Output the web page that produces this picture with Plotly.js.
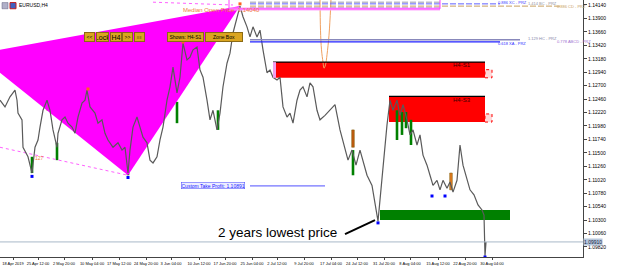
<!DOCTYPE html>
<html><head><meta charset="utf-8">
<script src="https://cdn.plot.ly/plotly-3.0.1.min.js"></script>
<style>html,body{margin:0;padding:0;background:#fff}#chart{width:625px;height:270px}</style>
</head><body><div id="chart"></div>
<script>
// ---- data (bar index, price) ----
const barX = [0,5,10,15,17,18,22,23,28,32,35,38,40,43,47,50,53,57,58,62,65,68,72,75,78,82,85,87,90,95,98,102,105,108,113,118,122,125,128,130,133,137,140,143,147,150,153,157,160,163,167,170,173,177,180,183,187,190,193,197,200,203,207,210,213,217,220,223,227,230,233,237,240,243,247,250,253,257,260,263,267,270,273,277,280,283,287,290,293,297,300,303,307,310,313,317,320,325,330,335,340,345,348,352,356,360,363,367,372,375,378,380,383,385,387,390,393,397,400,403,407,410,413,417,420,423,427,430,433,437,440,443,447,450,453,457,460,463,467,470,474,478,482,484,485,486];
const price = [1.1244,1.1232,1.1250,1.1262,1.1244,1.1221,1.1209,1.1160,1.1143,1.1114,1.1160,1.1173,1.1196,1.1226,1.1244,1.1226,1.1191,1.1160,1.1185,1.1209,1.1214,1.1203,1.1196,1.1185,1.1214,1.1239,1.1244,1.1262,1.1232,1.1221,1.1203,1.1209,1.1185,1.1173,1.1160,1.1168,1.1155,1.1160,1.1114,1.1155,1.1196,1.1214,1.1196,1.1178,1.1168,1.1137,1.1132,1.1143,1.1173,1.1196,1.1244,1.1268,1.1303,1.1257,1.1285,1.1346,1.1316,1.1321,1.1334,1.1339,1.1298,1.1285,1.1244,1.1209,1.1226,1.1191,1.1221,1.1268,1.1310,1.1328,1.1364,1.1393,1.1412,1.1393,1.1375,1.1357,1.1375,1.1357,1.1369,1.1334,1.1293,1.1298,1.1285,1.1280,1.1285,1.1232,1.1214,1.1221,1.1203,1.1244,1.1262,1.1268,1.1250,1.1275,1.1268,1.1226,1.1209,1.1217,1.1226,1.1236,1.1191,1.1155,1.1137,1.1155,1.1128,1.1155,1.1137,1.1110,1.1092,1.1057,1.1028,1.1066,1.1128,1.1164,1.1200,1.1244,1.1226,1.1244,1.1217,1.1236,1.1209,1.1182,1.1191,1.1164,1.1182,1.1146,1.1128,1.1110,1.1092,1.1101,1.1084,1.1101,1.1087,1.1098,1.1080,1.1101,1.1164,1.1128,1.1101,1.1084,1.1075,1.1057,1.1048,1.1039,1.0966,1.0991];

const xTickPos  = [13,38,64,92,119,146,171,199,225,252,277,304,331,357,384,410,438,465,492];
const xTickText = ["18 Apr 2019","25 Apr 12:00","2 May 20:00","10 May 04:00","17 May 12:00","24 May 20:00","3 Jun 04:00","10 Jun 12:00","17 Jun 20:00","25 Jun 04:00","2 Jul 12:00","9 Jul 20:00","17 Jul 04:00","24 Jul 12:00","31 Jul 20:00","8 Aug 04:00","15 Aug 12:00","22 Aug 20:00","30 Aug 04:00"];
const yTickVals = [1.14140,1.13900,1.13660,1.13420,1.13180,1.12940,1.12700,1.12460,1.12220,1.11980,1.11740,1.11500,1.11260,1.11020,1.10780,1.10540,1.10300,1.10060,1.09820];

const greenSigX    = [32,57,128,177,218,353,397,402,406,411];
const greenSigLow  = [1.1114,1.1137,1.1110,1.1203,1.1191,1.1110,1.1173,1.1182,1.1194,1.1164];
const greenSigHigh = [1.1143,1.1168,1.1141,1.1241,1.1226,1.1155,1.1226,1.1223,1.1223,1.1209];
const goldSigX    = [48,77,166,353,451];
const goldSigLow  = [1.1226,1.1214,1.1244,1.1160,1.1084];
const goldSigHigh = [1.1266,1.1250,1.1276,1.1191,1.1114];
const blueDotX = [32,128,378,432,445,485];
const blueDotP = [1.1108,1.1106,1.1025,1.1073,1.1073,1.0964];
const orangeDotX = [88,183,240];
const orangeDotP = [1.1264,1.1348,1.1416];

const patternX = [0,240,128,0];
const patternP = [1.1334,1.1412,1.1110,1.1293];

const uCurveX = [320,320.5,321.5,323,324,325.5,327,329,330.5,331];
const uCurveP = [1.1425,1.1369,1.1334,1.1312,1.1301,1.1307,1.1325,1.1360,1.1405,1.1425];

const zoneNames = ["H4-S1","H4-S3",""];
const zoneX0 = [273,389,380];
const zoneX1 = [485,485,510];
const zoneLo = [1.1284,1.1205,1.1030];
const zoneHi = [1.1312,1.1251,1.1048];
const zoneColor = ["#ff0000","#ff0000","#008000"];

const takeProfit = 1.1091;
const currentPrice = 1.0991;
const medianLevel = 1.1407;
const przLevels = [1.1419,1.1416,1.1412,1.1409];
const przEnd = [440,500,560,440];
const przColor = ["#9a9ab0","#6060ff","#c8a060","#8080c0"];
const przMid = [1.1352,1.1348];

// ---- traces ----
const traces = [];
traces.push({x:patternX, y:patternP, type:'scatter', mode:'lines', fill:'toself',
  fillcolor:'#ff00ff', line:{width:0, color:'#ff00ff'}, hoverinfo:'skip'});
traces.push({x:[0,128], y:[1.1160,1.1110], type:'scatter', mode:'lines',
  line:{color:'#ff60ff', width:1, dash:'dot'}});
traces.push({x:[153,233], y:[1.1419,1.1414], type:'scatter', mode:'lines',
  line:{color:'#ff60ff', width:1, dash:'dot'}});
traces.push({x:barX, y:price, type:'scatter', mode:'lines',
  line:{color:'#5a5a5a', width:1.2}});
traces.push({x:uCurveX, y:uCurveP, type:'scatter', mode:'lines', line:{color:'#f0a060', width:1, shape:'spline'}});
traces.push({x:greenSigX, base:greenSigLow, y:greenSigHigh.map((h,i)=>h-greenSigLow[i]), type:'bar',
  width:2.6, marker:{color:'#008000', line:{width:0}}});
traces.push({x:goldSigX, base:goldSigLow, y:goldSigHigh.map((h,i)=>h-goldSigLow[i]), type:'bar',
  width:2.6, marker:{color:['#e0a800','#e0a800','#e0a800','#c05a10','#e07a20'], line:{width:0.5,color:'#7a5a00'}}});
traces.push({x:blueDotX, y:blueDotP, type:'scatter', mode:'markers', marker:{color:'#0000ff', size:3, symbol:'square'}});
traces.push({x:orangeDotX, y:orangeDotP, type:'scatter', mode:'markers', marker:{color:'#ff6020', size:3, symbol:'square'}});
traces.push({x:[345,375], y:[1.1005,1.1030], type:'scatter', mode:'lines', line:{color:'#000', width:2}});

// ---- shapes ----
const shapes = [];
shapes.push({type:'line', xref:'paper', x0:0, x1:1, y0:currentPrice, y1:currentPrice, line:{color:'#a8b8c8', width:1}});
for (let i=0;i<zoneX0.length;i++){
  shapes.push({type:'rect', x0:zoneX0[i], x1:zoneX1[i], y0:zoneLo[i], y1:zoneHi[i], fillcolor:zoneColor[i], line:{width:0}, layer:'below'});
  if (zoneColor[i]==='#ff0000'){
    shapes.push({type:'line', x0:zoneX0[i], x1:zoneX1[i], y0:zoneHi[i], y1:zoneHi[i], line:{color:'#000', width:1.2}});
    shapes.push({type:'rect', x0:zoneX1[i], x1:zoneX1[i]+7, y0:zoneLo[i], y1:zoneLo[i]+0.00145, fillcolor:'#ffd8d8', line:{color:'#ff0000', width:1, dash:'dot'}});
  }
}
shapes.push({type:'rect', x0:273, x1:276, y0:zoneLo[0], y1:zoneHi[0], fillcolor:'#f0a0f0', line:{width:0}});
for (let i=0;i<przLevels.length;i++){
  shapes.push({type:'line', x0:250, x1:przEnd[i], y0:przLevels[i], y1:przLevels[i], line:{color:przColor[i], width:1, dash:'6px,2px'}});
}
shapes.push({type:'line', x0:250, x1:520, y0:przMid[0], y1:przMid[0], line:{color:'#8888bb', width:1.5}});
shapes.push({type:'line', x0:250, x1:500, y0:przMid[1], y1:przMid[1], line:{color:'#2020ff', width:1.2}});
shapes.push({type:'line', x0:229, x1:440, y0:medianLevel, y1:medianLevel, line:{color:'#ffa8ff', width:3}});
shapes.push({type:'path', path:'M 229,1.1425 L 229,'+medianLevel+' L 440,'+medianLevel+' L 440,1.1425', line:{color:'#ff40ff', width:1}});
shapes.push({type:'line', x0:250, x1:325, y0:takeProfit, y1:takeProfit, line:{color:'#5050ff', width:1}});
shapes.push({type:'rect', x0:2, x1:8, yref:'paper', y0:0.966, y1:0.99, fillcolor:'#b0b0c8', line:{color:'#606080', width:0.5}});
shapes.push({type:'rect', x0:10, x1:16, yref:'paper', y0:0.966, y1:0.99, fillcolor:'#4060c0', line:{color:'#c02020', width:1}});

// ---- annotations ----
const F = 'Liberation Sans Narrow, Liberation Sans, Arial, sans-serif';
const ann = [];
function btn(x, w, t, sz){
  ann.push({x:x, y:0.875, xref:'x', yref:'paper', text:t, showarrow:false, width:w, height:8,
    bgcolor:'#daa520', bordercolor:'#8b6a14', borderwidth:1, borderpad:0,
    font:{family:F, size:sz||5, color:'#000'}});
}
btn(89.5,9,'&lt;&lt;',5); btn(102.5,11,'Lock',7); btn(116,10,'H4',7); btn(127.5,9,'&gt;&gt;',5); btn(139.5,9,'≡≡',4);
btn(185.5,35,'Shows: H4-S1',5); btn(224,36,'Zone Box',5);
ann.push({x:17, y:0.98, xref:'x', yref:'paper', xanchor:'left', yanchor:'middle', text:'EURUSD,H4', showarrow:false, font:{family:F, size:5, color:'#000'}});
ann.push({x:181, y:1.1405, xanchor:'left', text:'Median Open Price  1.14040', showarrow:false, font:{family:F, size:6, color:'#f08040'}});
ann.push({x:462, y:1.1306, text:'H4-S1', showarrow:false, font:{family:F, size:6, color:'#400000'}});
ann.push({x:462, y:1.1244, text:'H4-S3', showarrow:false, font:{family:F, size:6, color:'#400000'}});
ann.push({x:33, y:1.1141, xanchor:'left', text:'127', showarrow:false, font:{family:F, size:5, color:'#f08040'}});
ann.push({x:181, y:takeProfit, xanchor:'left', text:'Custom Take Profit: 1.10891', showarrow:false,
  bordercolor:'#4040ff', borderwidth:0.5, borderpad:0, bgcolor:'#eef', font:{family:F, size:5, color:'#2020ff'}});
ann.push({x:277, y:1.1007, text:'2 years lowest price', showarrow:false, font:{family:'Liberation Sans, Arial, sans-serif', size:13.5, color:'#000'}});
ann.push({x:496, y:1.1419, xanchor:'left', text:'0.886 XC - PRZ', showarrow:false, font:{family:F, size:4, color:'#4040ff'}});
ann.push({x:526, y:1.1416, xanchor:'left', text:'1.414 BC - PRZ', showarrow:false, font:{family:F, size:4, color:'#9090a0'}});
ann.push({x:555, y:1.1411, xanchor:'left', text:'0.886 CD - PRZ', showarrow:false, font:{family:F, size:4, color:'#c8a060'}});
ann.push({x:526, y:1.1354, xanchor:'left', text:'1.129 HC - PRZ', showarrow:false, font:{family:F, size:4, color:'#8888aa'}});
ann.push({x:496, y:1.1346, xanchor:'left', text:'0.618 XA - PRZ', showarrow:false, font:{family:F, size:4, color:'#3030ff'}});
ann.push({x:555, y:1.1349, xanchor:'left', text:'0.778 ABCD - PRZ', showarrow:false, font:{family:F, size:4, color:'#a070d0'}});
ann.push({x:1, xref:'paper', y:currentPrice, xanchor:'left', text:'1.09910', showarrow:false,
  bgcolor:'#b8c8dc', borderpad:0, font:{family:F, size:5, color:'#102040'}});

const layout = {
  width:625, height:270,
  margin:{l:0, r:42, t:0, b:13, pad:0},
  paper_bgcolor:'#fff', plot_bgcolor:'#fff',
  showlegend:false, barmode:'overlay',
  xaxis:{range:[0,583], tickvals:xTickPos, ticktext:xTickText, tickangle:0, automargin:false,
    tickfont:{family:F, size:4, color:'#000'},
    showgrid:false, zeroline:false, showline:true, linecolor:'#444', linewidth:1, mirror:true, ticks:'outside', ticklen:2, tickcolor:'#444', fixedrange:true},
  yaxis:{range:[1.09641,1.14229], side:'right', tickvals:yTickVals, ticktext:yTickVals.map(v=>v.toFixed(5)), automargin:false,
    tickfont:{family:F, size:5, color:'#000'}, showgrid:false, zeroline:false, showline:true, linecolor:'#444', linewidth:1,
    ticks:'outside', ticklen:3, tickcolor:'#444', fixedrange:true},
  shapes:shapes, annotations:ann
};
Plotly.newPlot('chart', traces, layout, {staticPlot:true, displayModeBar:false});
</script></body></html>
